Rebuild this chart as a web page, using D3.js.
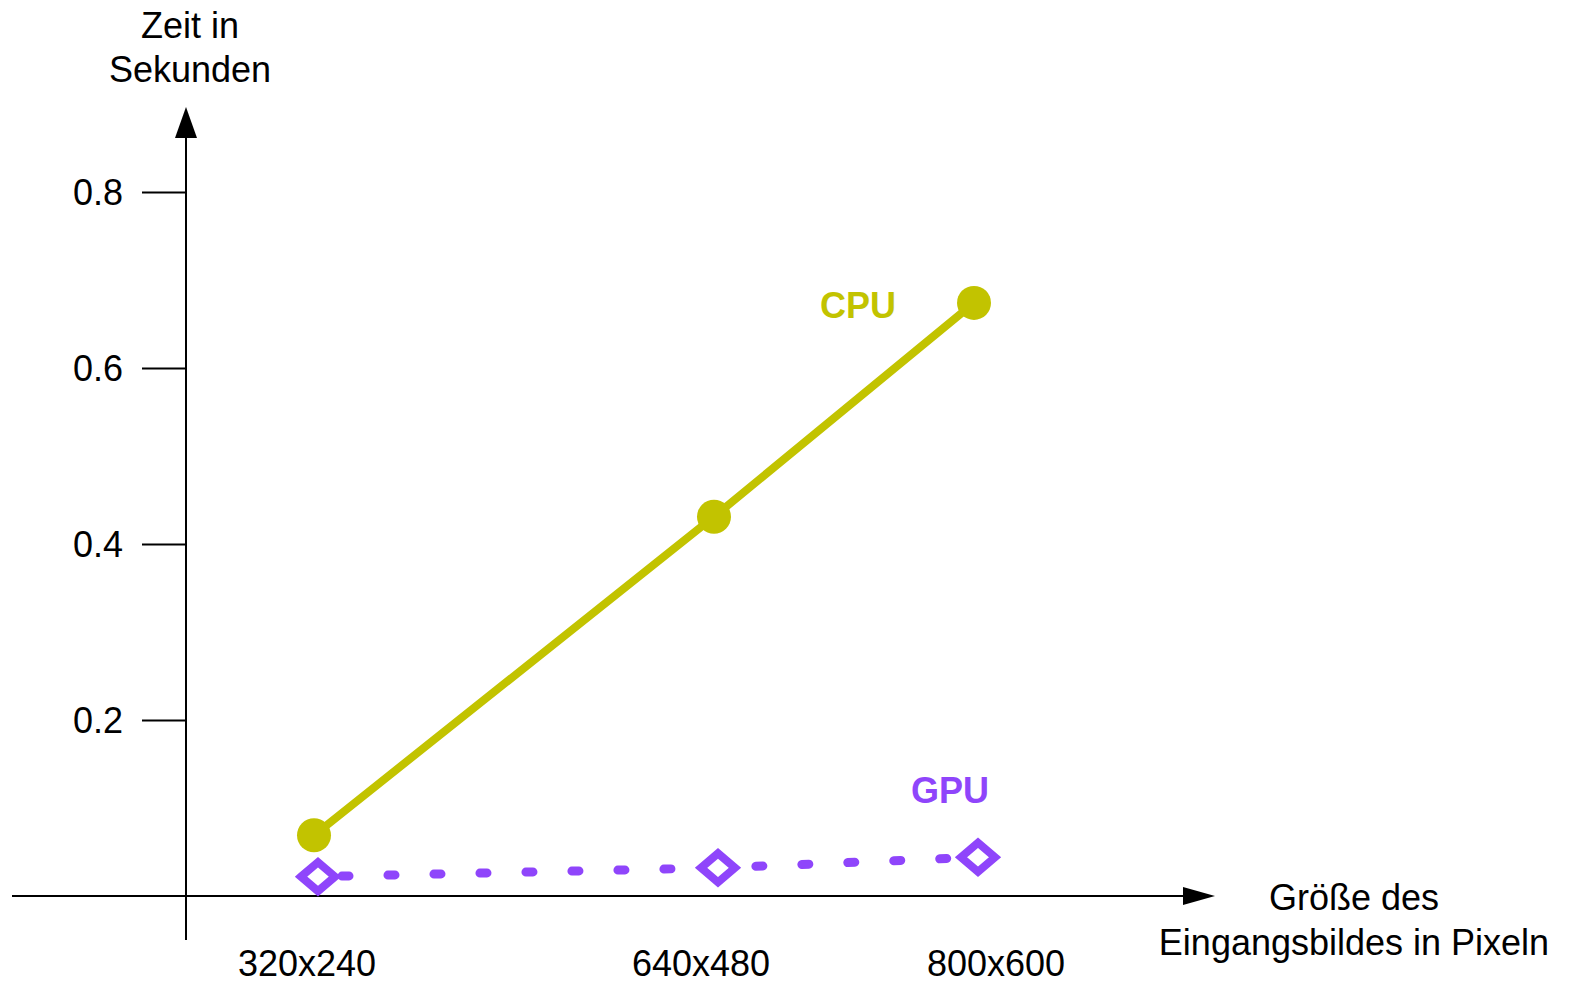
<!DOCTYPE html>
<html>
<head>
<meta charset="utf-8">
<script src="https://cdn.jsdelivr.net/npm/d3@7"></script>
<style>
html,body{margin:0;padding:0;background:#fff;}
svg{display:block;}
text{font-family:"Liberation Sans", Arial, Helvetica, sans-serif;}
</style>
</head>
<body>
<svg id="chart" width="1575" height="985"></svg>
<script>
// ---- data ----
const categories = ["320x240", "640x480", "800x600"];
const imageWidths = [320, 640, 800];
const cpuValues = [0.069, 0.431, 0.674];
const gpuValues = [0.022, 0.032, 0.044];
const yTicks = [0.2, 0.4, 0.6, 0.8];
const yTickLabels = ["0.2", "0.4", "0.6", "0.8"];
const yTitle = ["Zeit in", "Sekunden"];
const xTitle = ["Größe des", "Eingangsbildes in Pixeln"];
const seriesNames = ["CPU", "GPU"];

const cpuColor = "#c2c300";
const gpuColor = "#8f45fb";

const svg = d3.select("#chart");

// scales
const y = d3.scaleLinear().domain([0, 0.2]).range([896, 720]);
const x = d3.scaleLinear().domain(imageWidths).range([314, 714, 974]);
const xLabelPos = d3.scaleOrdinal().domain(categories).range([307, 701, 996]);

const axisX0 = 186;
const axisY0 = y(0);

// axes lines
svg.append("line").attr("x1", 12).attr("x2", 1188).attr("y1", axisY0).attr("y2", axisY0)
  .attr("stroke", "#000").attr("stroke-width", 2);
svg.append("path").attr("d", `M1215,${axisY0} L1183,${axisY0-9} L1183,${axisY0+9} Z`).attr("fill", "#000");

svg.append("line").attr("x1", axisX0).attr("x2", axisX0).attr("y1", 940).attr("y2", 132)
  .attr("stroke", "#000").attr("stroke-width", 2);
svg.append("path").attr("d", `M${axisX0},107 L${axisX0-11},138 L${axisX0+11},138 Z`).attr("fill", "#000");

// y ticks
const yAxis = d3.axisLeft(y).tickValues(yTicks).tickSize(44).tickPadding(19)
  .tickFormat((d, i) => yTickLabels[i]);
const gy = svg.append("g").attr("transform", `translate(${axisX0},0)`).call(yAxis);
gy.select(".domain").remove();
gy.selectAll(".tick line").attr("stroke", "#000").attr("stroke-width", 2);
gy.selectAll(".tick text").attr("font-size", 36).attr("fill", "#000")
  .attr("font-family", "'Liberation Sans', Arial, sans-serif").attr("dy", "0.34em");

// x labels
svg.append("g").selectAll("text").data(categories).join("text")
  .attr("x", d => xLabelPos(d)).attr("y", 976)
  .attr("text-anchor", "middle").attr("font-size", 36).attr("fill", "#000")
  .text(d => d);

// titles
svg.append("g").selectAll("text").data(yTitle).join("text")
  .attr("x", 190).attr("y", (d, i) => 38 + i * 44)
  .attr("text-anchor", "middle").attr("font-size", 36).attr("fill", "#000").text(d => d);
svg.append("g").selectAll("text").data(xTitle).join("text")
  .attr("x", 1354).attr("y", (d, i) => 910 + i * 45)
  .attr("text-anchor", "middle").attr("font-size", 36).attr("fill", "#000").text(d => d);

// GPU series
const gpuData = imageWidths.map((w, i) => ({w, v: gpuValues[i]}));
const line = d3.line().x(d => x(d.w)).y(d => y(d.v));
const gpuLine = d3.line().x(d => x(d.w) + 4).y(d => y(d.v));
svg.append("path").datum(gpuData).attr("d", gpuLine)
  .attr("fill", "none").attr("stroke", gpuColor).attr("stroke-width", 9)
  .attr("stroke-linecap", "round").attr("stroke-dasharray", "7,39").attr("stroke-dashoffset", -24);
svg.append("g").selectAll("path").data(gpuData).join("path")
  .attr("d", d => { const cx = x(d.w) + 4, cy = y(d.v);
    return `M${cx-17},${cy} L${cx},${cy-14.5} L${cx+17},${cy} L${cx},${cy+14.5} Z`; })
  .attr("fill", "#fff").attr("stroke", gpuColor).attr("stroke-width", 8).attr("stroke-linejoin", "miter");

// CPU series
const cpuData = imageWidths.map((w, i) => ({w, v: cpuValues[i]}));
svg.append("path").datum(cpuData).attr("d", line)
  .attr("fill", "none").attr("stroke", cpuColor).attr("stroke-width", 8);
svg.append("g").selectAll("circle").data(cpuData).join("circle")
  .attr("cx", d => x(d.w)).attr("cy", d => y(d.v)).attr("r", 17).attr("fill", cpuColor);

// series labels
svg.append("text").attr("x", 858).attr("y", 318).attr("text-anchor", "middle")
  .attr("font-size", 36).attr("font-weight", "bold").attr("fill", cpuColor).text(seriesNames[0]);
svg.append("text").attr("x", 950).attr("y", 803).attr("text-anchor", "middle")
  .attr("font-size", 36).attr("font-weight", "bold").attr("fill", gpuColor).text(seriesNames[1]);
</script>
</body>
</html>
